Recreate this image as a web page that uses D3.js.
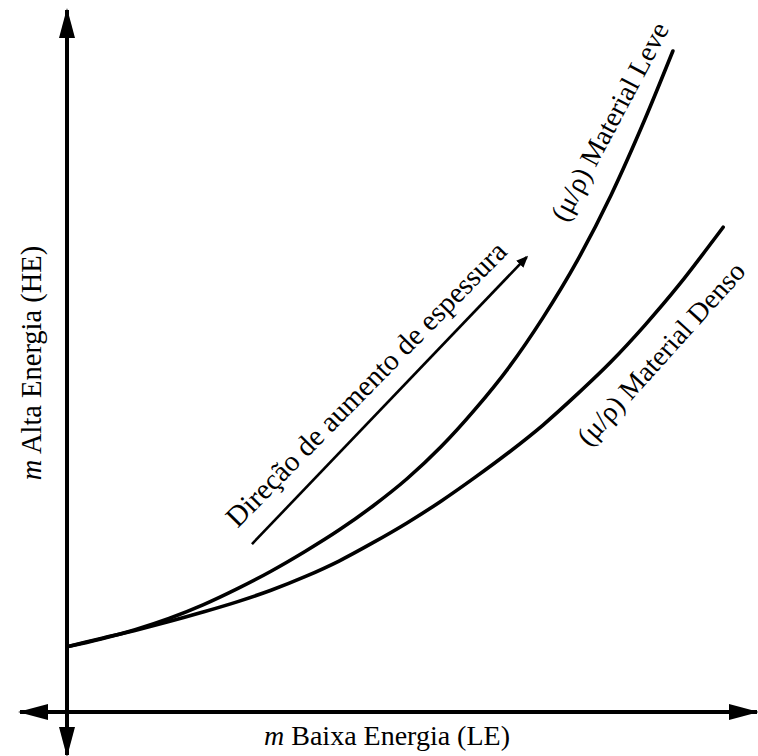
<!DOCTYPE html>
<html>
<head>
<meta charset="utf-8">
<script src="https://cdn.jsdelivr.net/npm/d3@7"></script>
<style>
  html, body { margin: 0; padding: 0; background: #fff; }
  svg { display: block; }
  text { font-family: "Liberation Serif", "Times New Roman", serif; fill: #000; }
</style>
</head>
<body>
<svg id="chart" width="758" height="756"></svg>
<script>
// Schematic curves: attenuation at high energy vs. low energy, in arbitrary units (0–100)
const lightX = [0, 5, 10, 15, 20, 25, 30, 35, 40, 45, 50, 55, 60, 65, 70, 75, 80, 85, 89.1];
const lightY = [9.6, 10.75, 12.1, 13.75, 15.75, 18.1, 20.7, 23.6, 26.75, 30.3, 34.3, 39.0,
                44.5, 50.7, 58.0, 66.3, 76.0, 87.2, 97.2];

const denseX = [0, 5, 10, 15, 20, 25, 30, 35, 40, 45, 50, 55, 60, 65, 70, 75, 80, 85, 90, 95, 96.5];
const denseY = [9.6, 10.8, 12.0, 13.3, 14.7, 16.2, 17.9, 19.9, 22.2, 24.9, 27.8, 31.0,
                34.5, 38.2, 42.2, 46.7, 51.5, 56.9, 62.8, 69.3, 71.3];

// Thickness-direction arrow (start, end) in the same units
const arrowX = [27.2, 67.6];
const arrowY = [24.7, 66.9];

const labels = {
  xAxis: "Baixa Energia (LE)",
  yAxis: "Alta Energia (HE)",
  light: "(μ/ρ) Material Leve",
  dense: "(μ/ρ) Material Denso",
  arrow: "Direção de aumento de espessura"
};

const svg = d3.select("#chart");
const x = d3.scaleLinear().domain([0, 100]).range([67, 747]);
const y = d3.scaleLinear().domain([0, 100]).range([712, 32]);

const defs = svg.append("defs");
defs.append("marker")
  .attr("id", "axisHead")
  .attr("viewBox", "0 0 30 16")
  .attr("refX", 28).attr("refY", 8)
  .attr("markerUnits", "userSpaceOnUse")
  .attr("markerWidth", 30).attr("markerHeight", 16)
  .attr("orient", "auto-start-reverse")
  .append("path").attr("d", "M0,0 L30,8 L0,16 Z").attr("fill", "#000");
defs.append("marker")
  .attr("id", "smallHead")
  .attr("viewBox", "0 0 12 10")
  .attr("refX", 10).attr("refY", 5)
  .attr("markerUnits", "userSpaceOnUse")
  .attr("markerWidth", 12).attr("markerHeight", 10)
  .attr("orient", "auto")
  .append("path").attr("d", "M0,0 L12,5 L0,10 Z").attr("fill", "#000");

// Axes: double-headed lines through the origin
svg.append("line")
  .attr("x1", x(0)).attr("y1", 755).attr("x2", x(0)).attr("y2", 10)
  .attr("stroke", "#000").attr("stroke-width", 4)
  .attr("marker-start", "url(#axisHead)").attr("marker-end", "url(#axisHead)");
svg.append("line")
  .attr("x1", 20).attr("y1", y(0)).attr("x2", 757).attr("y2", y(0))
  .attr("stroke", "#000").attr("stroke-width", 4)
  .attr("marker-start", "url(#axisHead)").attr("marker-end", "url(#axisHead)");

// Curves
const line = d3.line()
  .x(d => x(d[0])).y(d => y(d[1]))
  .curve(d3.curveMonotoneX);

svg.append("path")
  .datum(d3.zip(lightX, lightY))
  .attr("d", line)
  .attr("fill", "none").attr("stroke", "#000").attr("stroke-width", 3.6)
  .attr("stroke-linecap", "round");
svg.append("path")
  .datum(d3.zip(denseX, denseY))
  .attr("d", line)
  .attr("fill", "none").attr("stroke", "#000").attr("stroke-width", 3.6)
  .attr("stroke-linecap", "round");

// Thickness direction arrow
svg.append("line")
  .attr("x1", x(arrowX[0])).attr("y1", y(arrowY[0]))
  .attr("x2", x(arrowX[1])).attr("y2", y(arrowY[1]))
  .attr("stroke", "#000").attr("stroke-width", 2.6)
  .attr("marker-end", "url(#smallHead)");

// Axis titles
const xt = svg.append("text")
  .attr("x", 387).attr("y", 745)
  .attr("text-anchor", "middle").attr("font-size", 28);
xt.append("tspan").attr("font-style", "italic").text("m");
xt.append("tspan").text(" " + labels.xAxis);

const yt = svg.append("text")
  .attr("transform", "translate(41,363) rotate(-90)")
  .attr("text-anchor", "middle").attr("font-size", 28.5);
yt.append("tspan").attr("font-style", "italic").text("m");
yt.append("tspan").text(" " + labels.yAxis);

// Curve labels, drawn along the curves
svg.append("text")
  .attr("transform", "translate(618,126) rotate(-62)")
  .attr("text-anchor", "middle").attr("font-size", 28)
  .text(labels.light);
svg.append("text")
  .attr("transform", "translate(668,360) rotate(-48)")
  .attr("text-anchor", "middle").attr("font-size", 28)
  .text(labels.dense);
svg.append("text")
  .attr("transform", "translate(373,391) rotate(-45.5)")
  .attr("text-anchor", "middle").attr("font-size", 29)
  .text(labels.arrow);
</script>
</body>
</html>
